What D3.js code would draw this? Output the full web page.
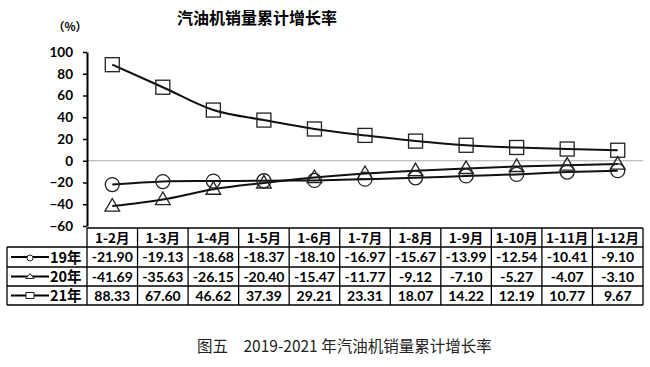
<!DOCTYPE html>
<html><head><meta charset="utf-8">
<script src="https://cdn.jsdelivr.net/npm/d3@7"></script>
<style>body{margin:0;background:#fff}svg{display:block}</style>
</head><body>
<script>
const categories = ["1-2月","1-3月","1-4月","1-5月","1-6月","1-7月","1-8月","1-9月","1-10月","1-11月","1-12月"];
const seriesNames = ["19年","20年","21年"];
const values19 = [-21.90,-19.13,-18.68,-18.37,-18.10,-16.97,-15.67,-13.99,-12.54,-10.41,-9.10];
const values20 = [-41.69,-35.63,-26.15,-20.40,-15.47,-11.77,-9.12,-7.10,-5.27,-4.07,-3.10];
const values21 = [88.33,67.60,46.62,37.39,29.21,23.31,18.07,14.22,12.19,10.77,9.67];
const yTicks = [100,80,60,40,20,0,-20,-40,-60];
const markers = ["circle","triangle","square"];

const W=650,H=367;
const svg=d3.select("body").append("svg").attr("width",W).attr("height",H);
const numFont="Lato, 'Noto Sans', sans-serif";
const cjk="'Noto Sans CJK SC', sans-serif";

const x=d3.scaleBand().domain(categories).range([87,643]);
const y=d3.scaleLinear().domain([-60,100]).range([226,52]);
const cx=d=>x(d)+x.bandwidth()/2;

// title
svg.append("text").attr("x",257).attr("y",24).attr("text-anchor","middle")
 .attr("font-family",cjk).attr("font-weight","bold").attr("font-size",16).text("汽油机销量累计增长率");
svg.append("text").attr("x",70).attr("y",31).attr("text-anchor","middle")
 .attr("font-family",cjk).attr("font-weight","bold").attr("font-size",11.5).text("（%）");

// zero line
svg.append("line").attr("x1",87).attr("x2",643).attr("y1",y(0)).attr("y2",y(0))
 .attr("stroke","#aaa").attr("stroke-width",1);

// y axis
const ya=svg.append("g").attr("transform","translate(87,0)")
 .call(d3.axisLeft(y).tickValues(yTicks).tickSize(4).tickSizeOuter(0));
ya.select(".domain").attr("stroke","#000").attr("stroke-width",2);
ya.selectAll(".tick line").attr("stroke","#000").attr("stroke-width",1.5);
ya.selectAll("text").attr("font-family",numFont).attr("font-weight","bold").attr("font-size",13.5)
 .attr("fill","#000").attr("x",-14);

const data=[values19,values20,values21];
const line=d3.line().x((d,i)=>cx(categories[i])).y(d=>y(d)).curve(d3.curveCatmullRom.alpha(0.5));

function drawMarker(g,type,px,py,s){
  if(type==="circle"){
    g.append("circle").attr("cx",px).attr("cy",py).attr("r",s)
     .attr("fill","none").attr("stroke","#222").attr("stroke-width",1.3);
  } else if(type==="triangle"){
    const h=s*1.8, w=s*2.1;
    g.append("path").attr("d",`M${px},${py-h*0.6}L${px+w/2},${py+h*0.4}L${px-w/2},${py+h*0.4}Z`)
     .attr("fill","none").attr("stroke","#222").attr("stroke-width",1.3);
  } else {
    g.append("rect").attr("x",px-s).attr("y",py-s).attr("width",2*s).attr("height",2*s)
     .attr("fill","none").attr("stroke","#222").attr("stroke-width",1.3);
  }
}

data.forEach((vals,k)=>{
  svg.append("path").datum(vals).attr("d",line).attr("fill","none")
   .attr("stroke","#111").attr("stroke-width",2);
});
data.forEach((vals,k)=>{
  const g=svg.append("g");
  vals.forEach((v,i)=>drawMarker(g,markers[k],cx(categories[i]),y(v),7));
});

// table
const rowTop=[228,247,267,286,305];
const tg=svg.append("g");
const lw=1.3;
tg.append("line").attr("x1",87).attr("x2",643).attr("y1",rowTop[0]).attr("y2",rowTop[0]).attr("stroke","#000").attr("stroke-width",lw);
for(let r=1;r<rowTop.length;r++){
  tg.append("line").attr("x1",7).attr("x2",643).attr("y1",rowTop[r]).attr("y2",rowTop[r]).attr("stroke","#000").attr("stroke-width",lw);
}
categories.forEach((c,i)=>{
  tg.append("line").attr("x1",x(c)).attr("x2",x(c)).attr("y1",rowTop[0]).attr("y2",rowTop[4]).attr("stroke","#000").attr("stroke-width",lw);
});
tg.append("line").attr("x1",643).attr("x2",643).attr("y1",rowTop[0]).attr("y2",rowTop[4]).attr("stroke","#000").attr("stroke-width",lw);
tg.append("line").attr("x1",7).attr("x2",7).attr("y1",rowTop[1]).attr("y2",rowTop[4]).attr("stroke","#000").attr("stroke-width",lw);

categories.forEach((c,i)=>{
  tg.append("text").attr("x",cx(c)).attr("y",(rowTop[0]+rowTop[1])/2+5).attr("text-anchor","middle")
   .attr("font-family",cjk).attr("font-weight","bold").attr("font-size",13.5).text(c);
});
data.forEach((vals,k)=>{
  const my=(rowTop[k+1]+rowTop[k+2])/2;
  vals.forEach((v,i)=>{
    tg.append("text").attr("x",cx(categories[i])).attr("y",my+5).attr("text-anchor","middle")
     .attr("font-family",numFont).attr("font-weight","bold").attr("font-size",14).text(v.toFixed(2));
  });
  tg.append("line").attr("x1",11).attr("x2",49).attr("y1",my).attr("y2",my).attr("stroke","#000").attr("stroke-width",2);
  const mg=tg.append("g");
  if(markers[k]==="circle"){
    mg.append("circle").attr("cx",30).attr("cy",my+1).attr("r",3).attr("fill","#fff").attr("stroke","#222").attr("stroke-width",1);
  } else if(markers[k]==="triangle"){
    mg.append("path").attr("d",`M30,${my-3}L34,${my+2}L26,${my+2}Z`).attr("fill","#fff").attr("stroke","#222").attr("stroke-width",1);
  } else {
    mg.append("rect").attr("x",26).attr("y",my-3).attr("width",8).attr("height",6).attr("fill","#fff").attr("stroke","#222").attr("stroke-width",1);
  }
  tg.append("text").attr("x",50).attr("y",my+5.5).attr("font-family",cjk).attr("font-weight","bold")
   .attr("font-size",14.5).text(seriesNames[k]);
});

// caption
svg.append("text").attr("x",197).attr("y",352).attr("font-family",cjk).attr("font-size",15.5)
 .attr("fill","#222").text("图五　2019-2021 年汽油机销量累计增长率");
</script>
</body></html>
